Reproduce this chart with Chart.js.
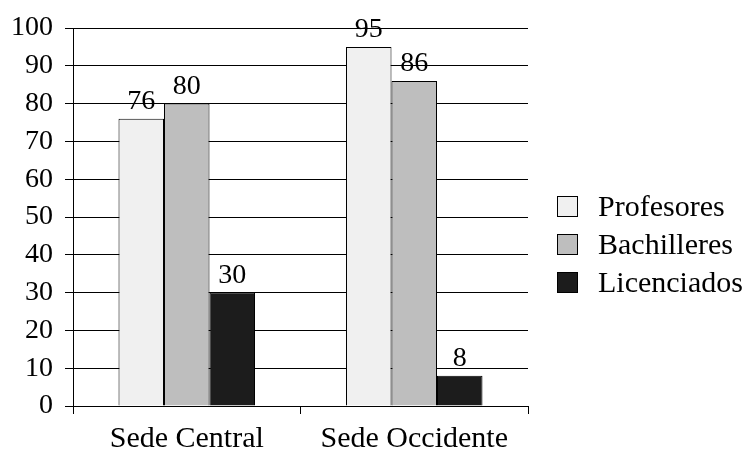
<!DOCTYPE html>
<html>
<head>
<meta charset="utf-8">
<script src="https://cdn.jsdelivr.net/npm/chart.js@4.4.1/dist/chart.umd.min.js"></script>
<style>
  html, body { margin: 0; padding: 0; background: #fff; }
  #wrap { position: relative; width: 745px; height: 452px; }
  #legend { position: absolute; left: 557px; top: 187px; }
  .legend-row { display: flex; align-items: center; height: 38px; }
  .legend-box { width: 21px; height: 21px; border: 1px solid #000; box-sizing: border-box; }
  .legend-text { margin-left: 20px; font: 30px "Liberation Serif", serif; color: #000; line-height: 1; }
</style>
</head>
<body>
<div id="wrap">
  <canvas id="chart" width="745" height="452"></canvas>
  <div id="legend"></div>
</div>
<script>
  const categories = ["Sede Central", "Sede Occidente"];
  const seriesNames = ["Profesores", "Bachilleres", "Licenciados"];
  const seriesColors = ["#f0f0f0", "#bebebe", "#1c1c1c"];
  const profesores = [76, 95];
  const bachilleres = [80, 86];
  const licenciados = [30, 8];
  const yTicks = [0, 10, 20, 30, 40, 50, 60, 70, 80, 90, 100];

  const seriesValues = [profesores, bachilleres, licenciados];
  const fontFamily = '"Liberation Serif", serif';

  // numbers above the bars
  const valueLabels = {
    id: "valueLabels",
    afterDatasetsDraw(chart) {
      const ctx = chart.ctx;
      ctx.save();
      ctx.font = "28px " + fontFamily;
      ctx.fillStyle = "#000";
      ctx.textAlign = "center";
      ctx.textBaseline = "alphabetic";
      chart.data.datasets.forEach((ds, i) => {
        chart.getDatasetMeta(i).data.forEach((bar, j) => {
          ctx.fillText(String(ds.data[j]), bar.x, bar.y - 10);
        });
      });
      ctx.restore();
    },
  };

  new Chart(document.getElementById("chart"), {
    type: "bar",
    data: {
      labels: categories,
      datasets: seriesNames.map((name, i) => ({
        label: name,
        data: seriesValues[i],
        backgroundColor: seriesColors[i],
        borderColor: "#000",
        borderWidth: 1,
        categoryPercentage: 0.6,
        barPercentage: 1.0,
      })),
    },
    options: {
      responsive: false,
      animation: false,
      layout: { padding: { left: 11, top: 28, right: 217, bottom: 0 } },
      plugins: {
        legend: { display: false },
        tooltip: { enabled: false },
      },
      scales: {
        x: {
          offset: true,
          afterFit: (scale) => { scale.height = 46; },
          grid: {
            offset: true,
            drawOnChartArea: false,
            drawTicks: true,
            tickLength: 8,
            color: "#000",
          },
          border: { display: true, color: "#000", width: 1 },
          ticks: {
            color: "#000",
            padding: 10,
            font: { family: fontFamily, size: 30, lineHeight: 1 },
          },
        },
        y: {
          min: 0,
          max: 100,
          afterBuildTicks: (scale) => {
            scale.ticks = yTicks.map((v) => ({ value: v }));
          },
          afterFit: (scale) => { scale.width = 62; },
          grid: { color: "#000", lineWidth: 1, tickLength: 8 },
          border: { display: true, color: "#000", width: 1 },
          ticks: {
            color: "#000",
            padding: 12,
            font: { family: fontFamily, size: 28, lineHeight: 1 },
          },
        },
      },
    },
    plugins: [valueLabels],
  });

  const legendEl = document.getElementById("legend");
  seriesNames.forEach((name, i) => {
    const row = document.createElement("div");
    row.className = "legend-row";
    row.innerHTML =
      `<div class="legend-box" style="background:${seriesColors[i]}"></div>` +
      `<span class="legend-text">${name}</span>`;
    legendEl.appendChild(row);
  });
</script>
</body>
</html>
